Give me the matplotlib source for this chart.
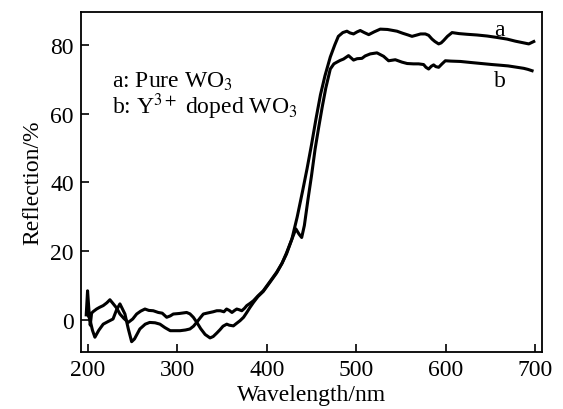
import matplotlib
matplotlib.use("Agg")
import matplotlib.pyplot as plt

# Curve a: Pure WO3
wl_a = [199, 202, 205, 207.7, 212, 217, 222, 228, 232, 235.7, 238, 241.3, 245, 248.8, 252, 258,
        264, 269, 275, 280.5, 286, 292, 297, 303, 309, 314, 318, 321.5, 326, 329, 333, 336.5,
        340, 344, 348, 352, 355, 358, 361, 364, 366.4, 369, 372, 375, 377.6, 381, 385, 390,
        396, 403, 411, 417, 422, 428, 434, 440, 445, 450, 455, 460, 465, 471, 476, 480,
        485, 489.6, 493, 497, 501, 504.5, 509, 514, 520, 526.9, 535, 545.6, 552, 558, 562.4,
        568, 572, 577.3, 581, 584.8, 588, 592.2, 595, 597.8, 602, 607.2, 615, 624, 635,
        646.4, 657, 668.8, 678, 687.4, 693, 698.6]
ref_a = [2.0, 0.3, -3.0, -5.0, -3.0, -1.2, -0.5, 0.3, 3.0, 4.7, 3.5, 1.75, -2.5, -6.3, -5.5, -2.6,
         -1.2, -0.7, -0.8, -1.2, -2.2, -3.1, -3.1, -3.1, -2.9, -2.6, -1.8, -0.7, 0.8, 1.75, 2.0, 2.2,
         2.4, 2.7, 2.7, 2.4, 3.2, 2.8, 2.2, 2.8, 3.2, 3.0, 2.7, 3.4, 4.2, 4.8, 5.6, 7.0,
         8.5, 11.0, 13.9, 16.5, 19.2, 23.5, 30.0, 37.5, 44.0, 51.0, 58.5, 65.5, 71.0, 76.5, 80.0, 82.5,
         83.6, 84.0, 83.5, 83.2, 83.8, 84.2, 83.6, 83.0, 83.8, 84.6, 84.5, 84.0, 83.4, 82.9, 82.5,
         82.9, 83.2, 83.2, 82.8, 81.7, 81.0, 80.3, 80.6, 81.3, 82.5, 83.6, 83.3, 83.1, 82.9,
         82.6, 82.2, 81.7, 81.1, 80.6, 80.3, 81.0]

# Curve b: Y3+ doped WO3
wl_b = [198, 199.5, 201, 202.5, 204, 206, 209.6, 213, 217, 221, 224.5, 228, 232, 235.7, 240, 245,
        250, 254.4, 259, 263.7, 268, 273, 278.6, 283, 288, 292, 295.4, 302, 310.3, 314, 317.8,
        322, 326, 331, 336.5, 340, 344, 347.7, 351, 355.2, 358, 362.6, 366, 370, 374, 377.6,
        381, 385, 390, 396, 403, 411, 417, 422, 428, 432.5, 436, 439, 442, 446, 450, 454,
        458, 462, 466, 471, 475, 478.4, 482, 485.8, 491.4, 497, 501, 506.4, 510, 515.7, 523.2,
        530.6, 536.2, 543.7, 551.2, 557, 564, 569.8, 575.4, 578, 581, 584, 586.6, 589, 592.2,
        596, 599.7, 606, 616.5, 628, 640, 652, 661.3, 670, 680, 687.4, 692, 696.7]
ref_b = [1.5, 8.5, 3.0, -1.5, 2.0, 2.5, 3.2, 3.7, 4.2, 5.0, 5.9, 4.8, 3.5, 1.75, 0.5, -0.7,
         0.3, 1.75, 2.6, 3.2, 2.8, 2.7, 2.2, 2.0, 0.8, 1.2, 1.75, 1.9, 2.2, 1.8, 0.8,
         -0.8, -2.5, -4.2, -5.2, -4.8, -3.8, -2.8, -1.8, -1.2, -1.5, -1.7, -1.0, -0.2, 0.8, 2.2,
         3.6, 5.1, 6.8, 8.3, 10.8, 13.7, 16.5, 19.5, 23.5, 26.5, 25.0, 24.0, 27.5, 35.0, 42.0, 49.7,
         56.0, 62.0, 67.5, 73.0, 74.5, 75.0, 75.5, 75.9, 76.9, 75.6, 76.0, 76.1, 76.8, 77.4, 77.7,
         76.7, 75.4, 75.7, 75.0, 74.6, 74.5, 74.5, 74.3, 73.5, 73.0, 73.8, 74.2, 73.7, 73.5,
         74.5, 75.4, 75.3, 75.2, 74.9, 74.6, 74.3, 74.1, 73.9, 73.5, 73.2, 72.9, 72.5]

x_ticks = [200, 300, 400, 500, 600, 700]
y_ticks = [0, 20, 40, 60, 80]

plt.rcParams['font.family'] = ['Liberation Serif', 'DejaVu Serif']
plt.rcParams['mathtext.fontset'] = 'stix'

FS = 17

fig = plt.figure(figsize=(5.63, 4.10), dpi=100)
ax = fig.add_axes([0.1433, 0.139, 0.8194, 0.8286])

ax.plot(wl_a, ref_a, color='black', lw=2.2, solid_joinstyle='round')
ax.plot(wl_b, ref_b, color='black', lw=2.2, solid_joinstyle='round')

ax.set_xlim(191.8, 707.8)
ax.set_ylim(-9.3, 89.5)
ax.set_xticks(x_ticks)
ax.set_yticks(y_ticks)
ax.tick_params(direction='in', length=6, width=1.2, labelsize=FS, pad=5)
for s in ax.spines.values():
    s.set_linewidth(1.3)

ax.set_xlabel('Wavelength/nm', fontsize=FS, labelpad=3)
ax.set_ylabel('Reflection/%', fontsize=FS, labelpad=5)

ax.text(226.4, 69.6, 'a: Pure WO$_3$', fontsize=FS, va='center', ha='left')
ax.text(226.4, 62.2, 'b: Y$^{3+}$ doped WO$_3$', fontsize=FS, va='center', ha='left')
ax.text(660, 84.5, 'a', fontsize=FS, va='center', ha='center')
ax.text(661, 69.6, 'b', fontsize=FS, va='center', ha='center')

fig.savefig('out.png', dpi=100)
